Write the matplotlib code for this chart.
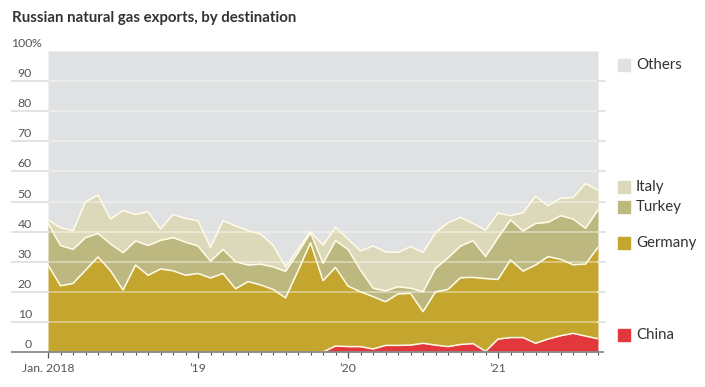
import matplotlib as mpl
mpl.use('Agg')
import numpy as np
import matplotlib.pyplot as plt

# monthly shares (%) of Russian gas exports, Jan 2018 - Sep 2021
china = [0, 0, 0, 0, 0, 0, 0, 0, 0, 0, 0, 0,
         0, 0, 0, 0, 0, 0, 0, 0, 0, 0, 0, 2.0,
         1.8, 1.8, 1.0, 2.2, 2.2, 2.3, 2.9, 2.3, 1.8, 2.5, 2.8, 0.2,
         4.3, 4.8, 4.8, 2.9, 4.3, 5.4, 6.2, 5.3, 4.4]
germany = [28.9, 22.0, 22.8, 27.2, 31.6, 27.0, 20.6, 28.9, 25.5, 27.6, 27.0, 25.5,
           26.1, 24.6, 26.1, 21.0, 23.4, 22.3, 20.8, 18.0, 27.0, 36.3, 23.7, 26.1,
           20.1, 18.2, 17.4, 14.5, 17.1, 17.2, 10.5, 17.7, 19.0, 22.2, 22.0, 24.2,
           19.8, 25.8, 22.1, 26.0, 27.4, 25.4, 22.8, 23.9, 30.4]
turkey = [13.8, 13.4, 11.3, 10.8, 7.8, 8.9, 12.4, 8.0, 9.9, 9.5, 11.0, 11.0,
          9.1, 5.6, 8.0, 9.0, 5.5, 6.9, 7.5, 8.8, 6.0, 3.3, 5.8, 8.9,
          12.2, 7.2, 2.8, 3.6, 2.4, 1.7, 6.6, 7.8, 10.5, 10.5, 12.2, 7.3,
          13.9, 13.3, 13.3, 13.8, 11.4, 14.5, 15.2, 11.9, 12.4]
italy = [1.2, 5.9, 6.2, 11.9, 12.8, 8.3, 14.0, 8.8, 11.2, 3.8, 7.7, 7.9,
         8.4, 4.6, 9.5, 11.9, 11.4, 10.0, 7.2, 1.5, 1.2, 0.4, 6.0, 4.4,
         3.4, 6.4, 14.0, 13.0, 11.4, 13.8, 13.1, 11.8, 11.7, 9.5, 5.7, 8.8,
         8.2, 1.4, 6.1, 9.1, 5.5, 5.8, 7.1, 14.9, 6.6]

year_ticks = [0, 12, 24, 36]
year_labels = ['Jan. 2018', '\u201919', '\u201920', '\u201921']

names = ['China', 'Germany', 'Turkey', 'Italy', 'Others']
colors = ['#e2383d', '#c4a52e', '#bdb880', '#dcd9ba', '#dfe1e2']
legend_y = [5.6, 36.2, 48.3, 54.9, 95.3]

plt.rcParams['font.family'] = ['Lato', 'DejaVu Sans']

x = np.arange(len(germany))
layers = [np.array(china), np.array(germany), np.array(turkey), np.array(italy)]
tops = np.cumsum(layers, axis=0)

W, H = 705, 387
fig = plt.figure(figsize=(W / 100, H / 100), dpi=100)
left, right, bottom, top = 48, 598, 352, 51
ax = fig.add_axes([left / W, (H - bottom) / H, (right - left) / W, (bottom - top) / H])

prev = np.zeros(len(x))
for i in range(4):
    ax.fill_between(x, prev, tops[i], color=colors[i], lw=0, zorder=1)
    prev = tops[i]
ax.fill_between(x, prev, 100, color=colors[4], lw=0, zorder=1)

# gridlines over the areas
for v in range(10, 100, 10):
    ax.axhline(v, color='white', alpha=0.38, lw=1.4, zorder=2)

# white separators between layers
ax.plot(x[21:], tops[0][21:], color='#fff8e8', lw=1.1, zorder=3)
for i in range(1, 4):
    ax.plot(x, tops[i], color='#fffbe6', lw=1.1, zorder=3)

ax.set_xlim(0, len(x) - 1)
ax.set_ylim(0, 100)
for s in ax.spines.values():
    s.set_visible(False)

# gridline stubs in the margins
ytr = ax.get_yaxis_transform()
for v in range(10, 100, 10):
    ax.plot([-36 / 550, 0], [v, v], color='#e3e3e3', lw=1.4, transform=ytr, clip_on=False)
    ax.plot([1, 1 + 7 / 550], [v, v], color='#e3e3e3', lw=1.4, transform=ytr, clip_on=False)
ax.plot([-36 / 550, 1 + 5 / 550], [0, 0], color='#8a8a8a', lw=1.3, transform=ytr,
        clip_on=False, zorder=5)

# y labels
ax.set_yticks([])
for v in range(0, 101, 10):
    ax.text(-16 / 550, v + 1.3, str(v), transform=ytr, ha='right', va='baseline',
            fontsize=8.8, color='#555555')
ax.text(-16 / 550, 101.3, '%', transform=ytr, ha='left', va='baseline',
        fontsize=8.8, color='#555555')

# x ticks
ax.set_xticks(year_ticks)
ax.set_xticklabels(year_labels)
ax.set_xticks(x, minor=True)
ax.tick_params(axis='x', which='major', length=4.5, width=0.9, color='#555555',
               labelsize=8.8, labelcolor='#555555', pad=3.5)
ax.tick_params(axis='x', which='minor', length=2.5, width=0.8, color='#555555')

# labels on the right
for name, c, yv in zip(names, colors, legend_y):
    ax.plot([1.047], [yv], marker='s', ms=8, color=c, transform=ytr, clip_on=False)
    ax.text(1.069, yv, name, transform=ytr, ha='left', va='center',
            fontsize=10.8, color='#333333')

fig.text(12 / W, 1 - 18 / H, 'Russian natural gas exports, by destination',
         ha='left', va='center', fontsize=10.8, fontweight='bold', color='#333333')

fig.savefig('out.png', dpi=100)
